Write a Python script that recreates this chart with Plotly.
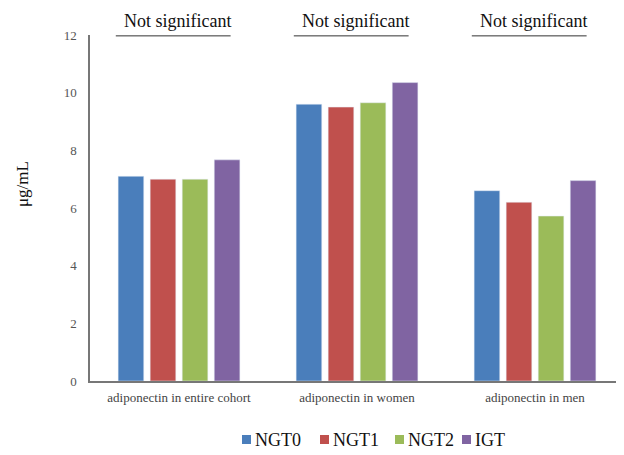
import plotly.graph_objects as go

categories = ["adiponectin in entire cohort", "adiponectin in women", "adiponectin in men"]
series_names = ["NGT0", "NGT1", "NGT2", "IGT"]
ngt0 = [7.1, 9.6, 6.6]
ngt1 = [7.0, 9.5, 6.2]
ngt2 = [7.0, 9.65, 5.72]
igt = [7.67, 10.35, 6.95]
colors = ["#4a7ebb", "#c0504d", "#9bbb59", "#8064a2"]
y_ticks = [0, 2, 4, 6, 8, 10, 12]
sig_labels = ["Not significant", "Not significant", "Not significant"]

SERIF = "Liberation Serif, Times New Roman, serif"

# layout constants (page offset of 8px body margin accounted for)
L, T, B = 82, 27, 74
W, H = 616, 447
PW, PH = W - L, H - T - B


def px_x(page_x):
    return (page_x - 8 - L) / PW


def px_y(page_y):
    return (H - B + 8 - page_y) / PH


fig = go.Figure()
for name, vals, col in zip(series_names, [ngt0, ngt1, ngt2, igt], colors):
    fig.add_trace(go.Bar(x=list(range(len(categories))), y=vals, name=name,
                         marker_color=col, showlegend=False))

for i, lab in enumerate(sig_labels):
    fig.add_shape(type="line", xref="x", yref="y", x0=i - 0.355, x1=i + 0.29, y0=11.97, y1=11.97,
                  line=dict(color="#333333", width=1))
    fig.add_annotation(x=i - 0.01, y=1, xref="x", yref="paper", text=lab, showarrow=False,
                       yanchor="bottom", yshift=2,
                       font=dict(family=SERIF, size=18, color="#111111"))

# y-axis title
fig.add_annotation(x=px_x(22), y=px_y(184), xref="paper", yref="paper", text="μg/mL",
                   showarrow=False, textangle=-90, xanchor="center", yanchor="middle",
                   font=dict(family=SERIF, size=17, color="#111111"))

# legend (manual, compact like the reference)
legend_x = [242, 320, 395, 462]
for name, col, lx in zip(series_names, colors, legend_x):
    fig.add_shape(type="rect", xref="paper", yref="paper",
                  x0=px_x(lx), x1=px_x(lx + 9), y0=px_y(444), y1=px_y(435),
                  fillcolor=col, line=dict(width=0))
    fig.add_annotation(x=px_x(lx + 11), y=px_y(440), xref="paper", yref="paper", text=name,
                       showarrow=False, xanchor="left", yanchor="middle",
                       font=dict(family=SERIF, size=18, color="#111111"))

fig.update_layout(
    width=W, height=H,
    margin=dict(l=L, r=0, t=T, b=B),
    plot_bgcolor="white", paper_bgcolor="white",
    barmode="group", bargap=0.28, bargroupgap=0.2,
    font=dict(family=SERIF, color="#555555"),
    showlegend=False,
)
fig.update_xaxes(tickvals=list(range(len(categories))), ticktext=categories, range=[-0.5, 2.5],
                 showline=True, linecolor="#777777", linewidth=1.5, ticks="", automargin=False,
                 ticklabelstandoff=4,
                 tickfont=dict(family=SERIF, size=13, color="#444444"))
fig.update_yaxes(range=[0, 12], tickvals=y_ticks, showgrid=False, zeroline=False,
                 showline=True, linecolor="#777777", linewidth=1.5, ticks="", automargin=False,
                 ticklabelstandoff=9,
                 tickfont=dict(family=SERIF, size=13, color="#555555"))

fig.write_html("out.html")
